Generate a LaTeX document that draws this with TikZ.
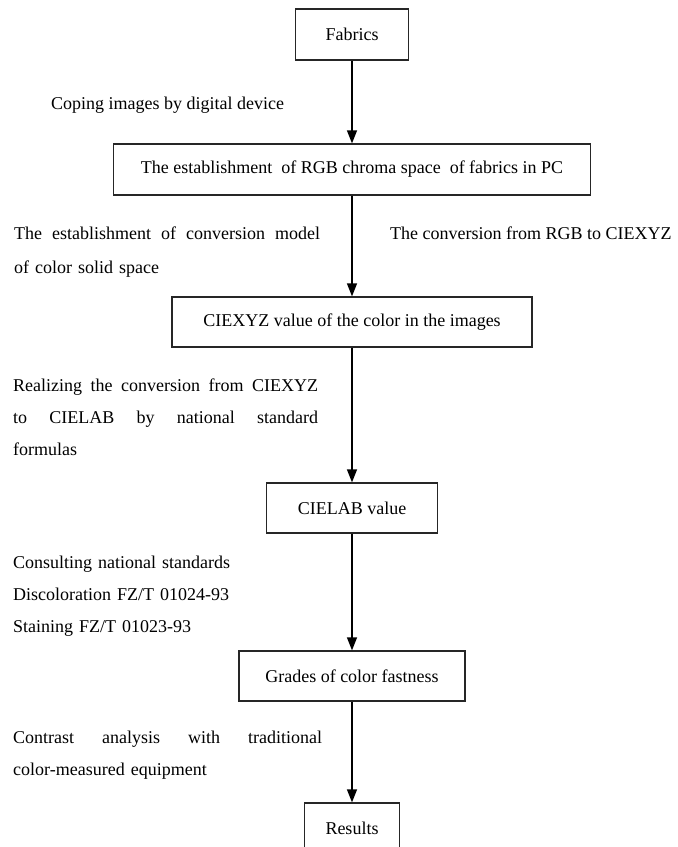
\documentclass[tikz,border=0pt]{standalone}
\usepackage{fontspec}
\setmainfont{Liberation Serif}
\usetikzlibrary{arrows.meta}
\newcommand{\lblfont}{\fontsize{18bp}{32bp}\selectfont}
\newcommand{\jline}[2]{\makebox[#1][s]{\spaceskip=0pt\xspaceskip=0pt #2}}
\tikzset{
  box/.style={draw=black!85, line width=1.2bp, fill=white, inner sep=0pt, font=\lblfont},
  lbl/.style={inner sep=0pt, font=\lblfont, align=left},
  arr/.style={draw=black, line width=1.3bp, -{Triangle[length=13bp,width=10bp]}}
}
\begin{document}
\begin{tikzpicture}[x=1bp,y=-1bp]
\useasboundingbox (0,0) rectangle (678,847);
% boxes
\node[box, minimum width=113bp, minimum height=51bp] (fab) at (352,34.5) {Fabrics};
\node[box, minimum width=477bp, minimum height=51bp] (rgb) at (352,169.5) {The establishment\ \ of RGB chroma space\ \ of fabrics in PC};
\node[box, minimum width=360bp, minimum height=50bp] (xyz) at (352,322) {CIEXYZ value of the color in the images};
\node[box, minimum width=171bp, minimum height=50bp] (lab) at (352,508) {CIELAB value};
\node[box, minimum width=226bp, minimum height=50bp] (gra) at (352,676) {Grades of color fastness};
\node[box, minimum width=95bp, minimum height=50bp] (res) at (352,828) {Results};
% arrows
\draw[arr] (fab.south) -- (rgb.north);
\draw[arr] (rgb.south) -- (xyz.north);
\draw[arr] (xyz.south) -- (lab.north);
\draw[arr] (lab.south) -- (gra.north);
\draw[arr] (gra.south) -- (res.north);
% labels
\node[lbl, anchor=base west] (cop) at (51,109) {Coping images by digital device};
\node[lbl, anchor=base west, text width=306bp] (est) at (14,239)
  {\jline{306bp}{The establishment of conversion model}\\[2bp]of color solid space};
\node[lbl, anchor=base west] (conv) at (390,239) {The conversion\ from RGB to CIEXYZ};
\node[lbl, anchor=base west, text width=305bp] (real) at (13,391)
  {\jline{305bp}{Realizing the conversion from CIEXYZ}\\
   \jline{305bp}{to CIELAB by national standard}\\formulas};
\node[lbl, anchor=base west, text width=305bp] (cons) at (13,568)
  {Consulting national standards\\Discoloration FZ/T 01024-93\\Staining FZ/T 01023-93};
\node[lbl, anchor=base west, text width=309bp] (contr) at (13,743)
  {\jline{309bp}{Contrast analysis with traditional}\\color-measured equipment};
\end{tikzpicture}
\end{document}
